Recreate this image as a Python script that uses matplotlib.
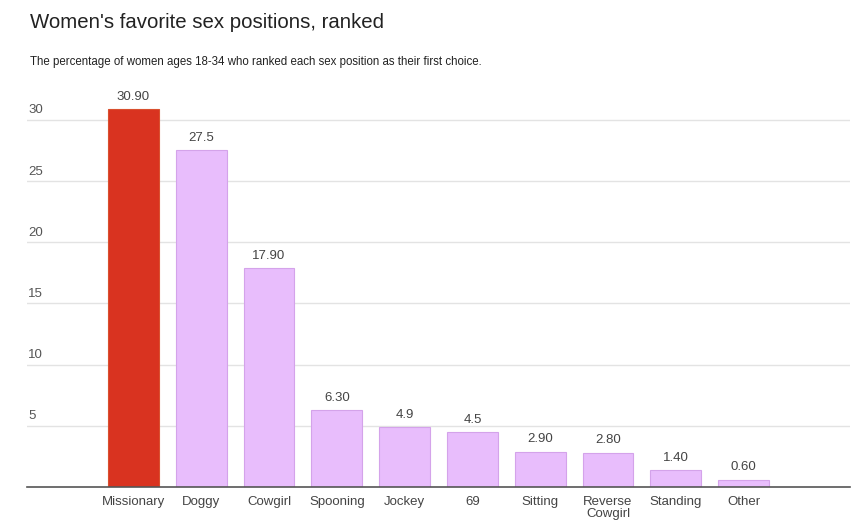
import matplotlib.pyplot as plt

plt.rcParams['font.family'] = ['Liberation Sans', 'DejaVu Sans']

positions = ["Missionary", "Doggy", "Cowgirl", "Spooning", "Jockey", "69",
             "Sitting", "Reverse\nCowgirl", "Standing", "Other"]
percent = [30.90, 27.5, 17.90, 6.30, 4.9, 4.5, 2.90, 2.80, 1.40, 0.60]
value_labels = ["30.90", "27.5", "17.90", "6.30", "4.9", "4.5",
                "2.90", "2.80", "1.40", "0.60"]
y_ticks = [5, 10, 15, 20, 25, 30]

fig = plt.figure(figsize=(8.57, 5.24), dpi=100)
ax = fig.add_axes([0.0315, 0.0706, 0.9603, 0.739])

colors = ['#d93320'] + ['#e8bdfc'] * (len(percent) - 1)
edges = ['#d9502f'] + ['#d4a3ea'] * (len(percent) - 1)
x = list(range(len(percent)))
ax.bar(x, percent, width=0.75, color=colors, edgecolor=edges, linewidth=0.8, zorder=3)

# grid lines with labels sitting above them
for t in y_ticks:
    ax.axhline(t, color='#e3e3e3', linewidth=1.0, zorder=1)
    ax.annotate(str(t), xy=(0, t), xycoords=ax.get_yaxis_transform(),
                xytext=(1, 2.5), textcoords='offset points',
                ha='left', va='bottom', fontsize=9.5, color='#555555')
ax.axhline(0, color='#555555', linewidth=1.2, zorder=4, clip_on=False)

for xi, v, lab in zip(x, percent, value_labels):
    ax.annotate(lab, xy=(xi, v), xytext=(0, 4.5), textcoords='offset points',
                ha='center', va='bottom', fontsize=9.5, color='#444444')

ax.set_xlim(-1.57, 10.57)
ax.set_ylim(0, 31.64)
ax.set_xticks(x)
ax.set_xticklabels(positions, fontsize=9.5, color='#444444', linespacing=1.05)
ax.tick_params(axis='x', length=0, pad=6.5)
ax.set_yticks([])
for s in ax.spines.values():
    s.set_visible(False)

fig.text(30 / 857, 1 - 23 / 524, "Women's favorite sex positions, ranked",
         fontsize=14.7, color='#222222', ha='left', va='center')
fig.text(30 / 857, 1 - 62 / 524,
         "The percentage of women ages 18-34 who ranked each sex position as their first choice.",
         fontsize=8.3, color='#222222', ha='left', va='center')

fig.savefig('out.png', dpi=100)
